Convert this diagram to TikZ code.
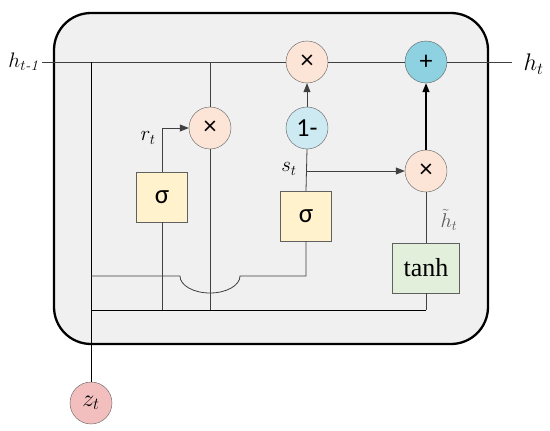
\RequirePackage{fix-cm}
\documentclass[tikz,border=0pt]{standalone}
\usepackage{amsmath}
\usepackage{fontspec}
\newfontfamily\calib{Carlito}
\newfontfamily\serifb{Liberation Serif}
\usepackage{tikz}
\usetikzlibrary{positioning}
\usetikzlibrary{arrows.meta}

\definecolor{cellbg}{HTML}{F0F0F0}
\definecolor{peach}{HTML}{FCE4D6}
\definecolor{skyb}{HTML}{CDE9F1}
\definecolor{tealb}{HTML}{8ED2E2}
\definecolor{sigy}{HTML}{FFF2CC}
\definecolor{tanhg}{HTML}{E2EFDA}
\definecolor{zpink}{HTML}{F2BFBE}

\tikzset{
  op/.style={circle, draw=gray!75!black, minimum size=42pt, inner sep=0pt,
             font=\calib\fontsize{26}{28}\selectfont},
  gatebox/.style={draw=gray!75!black, minimum width=51pt, minimum height=50pt,
                  inner sep=0pt},
  wire/.style={draw=black!75, line width=0.8pt},
  tip/.style={-{Triangle[length=9pt,width=7pt]}},
  lbl/.style={font=\fontsize{21}{24}\selectfont}
}

\begin{document}
\begin{tikzpicture}[x=1pt,y=-1pt]
  \useasboundingbox (0,0) rectangle (550,431);

  % Cell
  \draw[fill=cellbg, line width=2.3pt, rounded corners=37pt] (54,13) rectangle (488,344);

  % Operators
  \node[op, fill=peach] (mult) at (307,62) {×};
  \node[op, fill=tealb] (plus) at (426,62) {+};
  \node[op, fill=peach] (mulr) at (210,128) {×};
  \node[op, fill=skyb] (onem) at (307,128) {1-};
  \node[op, fill=peach] (muls) at (426,171) {×};
  \node[op, fill=zpink, font=\fontsize{24}{26}\selectfont] (zt) at (91,403) {$z_t$};

  % Gates
  \node[gatebox, fill=sigy, font=\calib\fontsize{27}{29}\selectfont] (sigr) at (162,197) {σ};
  \node[gatebox, fill=sigy, font=\calib\fontsize{27}{29}\selectfont] (sigs) at (306,216) {σ};
  \node[gatebox, fill=tanhg, minimum width=67pt, font=\serifb\fontsize{26}{28}\selectfont] (tanh) at (426,268) {tanh};

  % Inputs and outputs
  \node[lbl, anchor=east, font=\fontsize{21}{24}\selectfont] (hprev) at (42,62) {$h_{t\textit{-1}}$};
  \node[lbl, anchor=west, font=\fontsize{24}{26}\selectfont] (hnext) at (520,64) {$h_t$};
  \coordinate (hend) at (512,62);

  % Main line
  \draw[wire] (hprev.east) -- (mult.west);
  \draw[wire] (mult.east) -- (plus.west);
  \draw[wire] (plus.east) -- (hend);

  % Vertical taps
  \coordinate (ztap) at (91,62);
  \coordinate (rtap) at (210,62);
  \coordinate (rbot) at (210,310);
  \draw[wire, black, line width=1pt] (ztap) -- (zt.north);
  \draw[wire] (rtap) -- (mulr.north);
  \draw[wire] (mulr.south) -- (rbot);

  % Reset gate
  \draw[wire, tip] (sigr.north) |- (mulr.west);
  \node[lbl] (rt) at (148,138) {$r_t$};
  \coordinate (sigrbot) at (162,310);
  \draw[wire] (sigr.south) -- (sigrbot);

  % Line with hop
  \coordinate (hopin) at (91,276);
  \coordinate (hopa) at (180,276);
  \draw[wire] (hopin) -- (hopa) arc[start angle=180, end angle=0, x radius=30, y radius=17]
    -- (306,276) -- (sigs.south);

  % Bottom line
  \coordinate (botl) at (91,310);
  \coordinate (botr) at (426,310);
  \draw[wire, black, line width=1pt] (botl) -- (botr);
  \draw[wire] (tanh.south) -- (botr);

  % Update gate
  \coordinate (st) at (307,171);
  \draw[wire] (sigs.north) -- (onem.south);
  \draw[wire, tip] (onem.north) -- (mult.south);
  \draw[wire, tip] (st) -- (muls.west);
  \node[lbl] (stl) at (289,169) {$s_t$};

  % Candidate
  \draw[wire] (tanh.north) -- (muls.south);
  \draw[wire, black, line width=1.3pt, tip] (muls.north) -- (plus.south);
  \node[font=\fontsize{20}{22}\selectfont, text=black!65] (htl) at (449,220) {$\tilde{h}_t$};
\end{tikzpicture}
\end{document}
